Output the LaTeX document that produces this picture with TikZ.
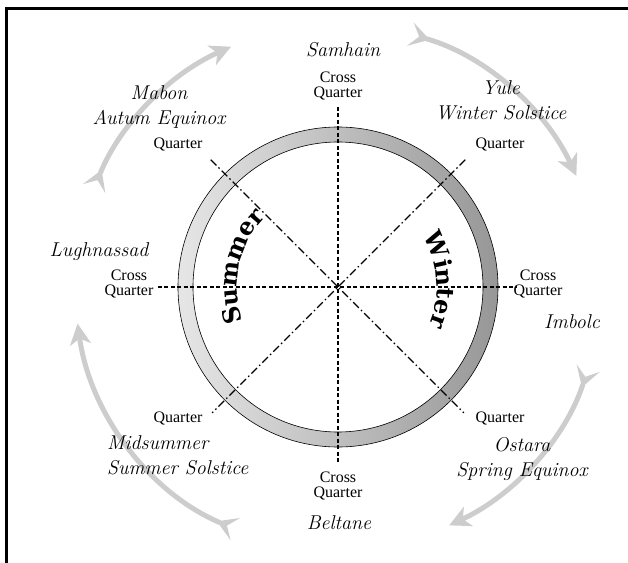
\documentclass[tikz,border=0pt]{standalone}
\usepackage{fontspec}
\usepackage{tikz}
\usetikzlibrary{arrows.meta,decorations.text}
\newfontfamily\labelfont{Liberation Serif}
\newfontfamily\seasonfont{DejaVu Serif}
\definecolor{cArrow}{HTML}{CDCDCD}
\definecolor{cLight}{HTML}{E6E6E6}
\definecolor{cDark}{HTML}{979797}
\tikzset{
  quarter/.style={font=\labelfont\fontsize{16}{15}\selectfont, align=center,
                  inner sep=0pt},
  festival/.style={font=\fontsize{20}{25}\selectfont\itshape, align=center,
                   inner sep=0pt},
  axis/.style={line width=1.1pt, dash pattern=on 4pt off 2.5pt},
  diag/.style={line width=1.1pt, dash pattern=on 8pt off 3pt on 1.5pt off 3pt},
  cycle/.style={line width=5pt, draw=cArrow,
                {Stealth[reversed, length=20pt, width=24pt, inset=9pt]}-{Stealth[length=21pt, width=21pt, inset=6pt]}},
  season/.style={decorate, decoration={text along path, text align=center,
                 text={|\seasonfont\bfseries\fontsize{24}{24}\selectfont|#1}}},
}

\begin{document}
\begin{tikzpicture}[x=1pt, y=1pt]
  \useasboundingbox (-338,-275) rectangle (290,287);
  \draw[line width=3pt] (-331,-290) |- (300,278.5);

  \coordinate (c) at (0,0);

  % the wheel
  \shade[left color=cLight, right color=cDark, even odd rule]
    (c) circle (160) (c) circle (145);
  \draw[line width=0.6pt] (c) circle (160) (c) circle (145);

  % cross quarter and quarter lines
  \draw[axis] (0,180) -- (0,-175);
  \draw[axis] (-180,0) -- (178,0);
  \draw[diag] (135:180) -- (-45:178);
  \draw[diag] (45:180) -- (225:178);

  % seasons
  \path[season=Summer] (218:101) arc[start angle=218, end angle=118, radius=101];
  \path[season=Winter] (54:99) arc[start angle=54, end angle=-46, radius=99];

  % turning of the year
  \draw[cycle] (158:263) arc[start angle=158, end angle=114, radius=263];
  \draw[cycle] (74:263) arc[start angle=74, end angle=25, radius=263];
  \draw[cycle] (-18:263) arc[start angle=-18, end angle=-65, radius=263];
  \draw[cycle] (247:263) arc[start angle=247, end angle=188, radius=263];

  % line labels
  \node[quarter] (cqtop) at (0,200.5) {Cross\\Quarter};
  \node[quarter] (cqleft) at (-209,3.5) {Cross\\Quarter};
  \node[quarter] (cqright) at (200,3.5) {Cross\\Quarter};
  \node[quarter] (cqbottom) at (0,-198.5) {Cross\\Quarter};
  \node[quarter] (qul) at (-160,142) {Quarter};
  \node[quarter] (qur) at (162,142) {Quarter};
  \node[quarter] (qll) at (-160,-131) {Quarter};
  \node[quarter] (qlr) at (162,-131) {Quarter};

  % festivals
  \node[festival] (samhain) at (5,237) {Samhain};
  \node[festival] (mabon) at (-179,179.5) {Mabon\\Autum Equinox};
  \node[festival] (yule) at (163,186.5) {Yule\\Winter Solstice};
  \node[festival] (lugh) at (-239,35) {Lughnassad};
  \node[festival] (imbolc) at (234,-35) {Imbolc};
  \node[festival, align=left, anchor=west] (midsummer) at (-231,-168.5) {Midsummer\\Summer Solstice};
  \node[festival] (ostara) at (184,-171.5) {Ostara\\Spring Equinox};
  \node[festival] (beltane) at (1,-236) {Beltane};
\end{tikzpicture}
\end{document}
